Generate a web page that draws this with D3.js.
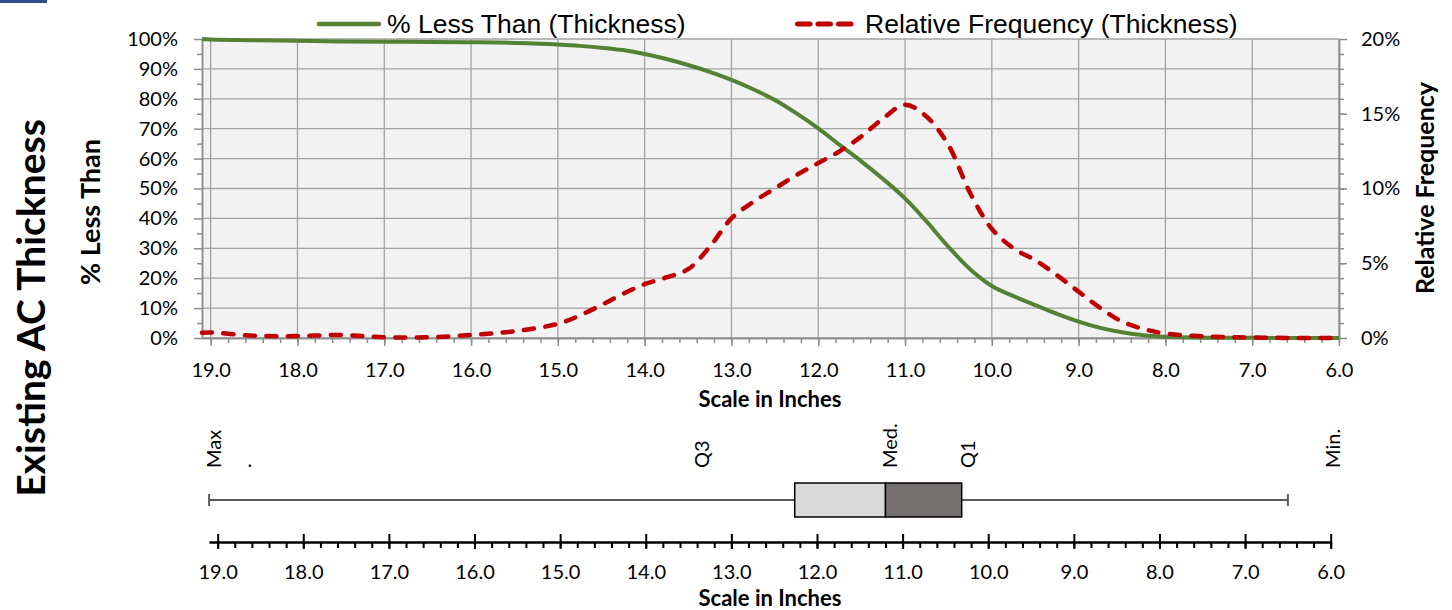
<!DOCTYPE html>
<html>
<head>
<meta charset="utf-8">
<script src="https://cdn.jsdelivr.net/npm/d3@7"></script>
<style>
  body { margin: 0; background: #fff; }
  svg text { font-family: Lato, "Open Sans", sans-serif; fill: #000; }
  .legend text { font-family: "Liberation Sans", Arial, sans-serif; }
  .grid line { stroke: #a3a3a3; stroke-width: 1.3; }
  .gray-axis path, .gray-axis line { stroke: #8c8c8c; stroke-width: 1.5; }
  .bot-axis path, .bot-axis line { stroke: #000; stroke-width: 2; }
</style>
</head>
<body>
<svg id="chart" width="1452" height="610"></svg>
<script>
// ---- data ----
var thickness = [19.1, 19.0, 18.5, 18.0, 17.5, 17.0, 16.5, 16.0, 15.5, 15.0, 14.75, 14.5, 14.25, 14.0,
    13.75, 13.5, 13.25, 13.0, 12.75, 12.5, 12.25, 12.0, 11.75, 11.5, 11.25, 11.0, 10.75, 10.5, 10.25,
    10.0, 9.75, 9.5, 9.25, 9.0, 8.75, 8.5, 8.25, 8.0, 7.5, 7.0, 6.5, 6.0];
// % less than (0-1, left axis)
var pctLessThan = [1.0, 0.998, 0.996, 0.994, 0.992, 0.991, 0.990, 0.989, 0.987, 0.982, 0.977, 0.971, 0.963, 0.950,
    0.933, 0.913, 0.890, 0.863, 0.832, 0.796, 0.751, 0.701, 0.645, 0.590, 0.531, 0.467, 0.389, 0.305, 0.230,
    0.174, 0.140, 0.110, 0.081, 0.055, 0.034, 0.019, 0.009, 0.004, 0.001, 0.0005, 0, 0];
// relative frequency (0-0.2, right axis)
var relFrequency = [0.0035, 0.0037, 0.0015, 0.0013, 0.0020, 0.0005, 0.0005, 0.0020, 0.0045, 0.0095, 0.015, 0.022, 0.0295, 0.036,
    0.0405, 0.046, 0.061, 0.080, 0.091, 0.100, 0.109, 0.117, 0.125, 0.135, 0.147, 0.156, 0.148, 0.129, 0.097,
    0.073, 0.060, 0.052, 0.042, 0.031, 0.020, 0.011, 0.006, 0.003, 0.001, 0.0003, 0, 0];

var seriesNames = ['% Less Than (Thickness)', 'Relative Frequency (Thickness)'];

// box plot: max, Q3, median, Q1, min
var boxValues = [19.1, 12.26, 11.2, 10.31, 6.5];
var boxLabels = ['Max', '.', 'Q3', 'Med.', 'Q1', 'Min.'];
var boxLabelAt = [19.05, 18.7, 13.35, 11.15, 10.24, 5.98];

var xTicks = d3.range(19, 5.99, -1);
var xMinorTicks = d3.range(19, 5.99, -0.2);
var leftTicks = d3.range(0, 1.001, 0.1);
var leftMinorTicks = d3.range(0.05, 1, 0.1);
var rightTicks = [0, 0.05, 0.10, 0.15, 0.20];
var rightMinorTicks = d3.range(0.01, 0.2, 0.01);

// ---- layout ----
var svg = d3.select('#chart');
var plot = {l: 202, r: 1339, t: 39, b: 338};

var xScale = d3.scaleLinear().domain([19.1, 6]).range([plot.l, plot.r]);
var yLeft = d3.scaleLinear().domain([0, 1]).range([plot.b, plot.t]);
var yRight = d3.scaleLinear().domain([0, 0.2]).range([plot.b, plot.t]);
var xBox = d3.scaleLinear().domain([19.1, 6]).range([209.1, 1330.7]);

// little blue bar top-left
svg.append('rect').attr('x', 0).attr('y', 0).attr('width', 47).attr('height', 3).attr('fill', '#2f4b8a');

// plot background
svg.append('rect')
    .attr('x', plot.l).attr('y', plot.t)
    .attr('width', plot.r - plot.l).attr('height', plot.b - plot.t)
    .attr('fill', '#f2f2f2');

// gridlines
var grid = svg.append('g').attr('class', 'grid');
grid.selectAll('.vg').data(xTicks).enter().append('line')
    .attr('x1', d => xScale(d)).attr('x2', d => xScale(d))
    .attr('y1', plot.t).attr('y2', plot.b);
grid.selectAll('.hg').data(leftTicks).enter().append('line')
    .attr('x1', plot.l).attr('x2', plot.r)
    .attr('y1', d => yLeft(d)).attr('y2', d => yLeft(d));

// axes of the top chart
var gx = svg.append('g').attr('class', 'gray-axis')
    .attr('transform', 'translate(0,' + plot.b + ')');
gx.call(d3.axisBottom(xScale).tickValues(xMinorTicks).tickSize(5).tickSizeOuter(0).tickFormat(''));
var gx2 = svg.append('g').attr('class', 'gray-axis')
    .attr('transform', 'translate(0,' + plot.b + ')');
gx2.call(d3.axisBottom(xScale).tickValues(xTicks).tickSize(8).tickSizeOuter(0).tickPadding(17)
    .tickFormat(d3.format('.1f')));

var gy = svg.append('g').attr('class', 'gray-axis')
    .attr('transform', 'translate(' + plot.l + ',0)');
gy.call(d3.axisLeft(yLeft).tickValues(leftMinorTicks).tickSize(5).tickSizeOuter(0).tickFormat(''));
var gy2 = svg.append('g').attr('class', 'gray-axis')
    .attr('transform', 'translate(' + plot.l + ',0)');
gy2.call(d3.axisLeft(yLeft).tickValues(leftTicks).tickSize(8).tickSizeOuter(0).tickPadding(16)
    .tickFormat(d3.format('.0%')));

var gr = svg.append('g').attr('class', 'gray-axis')
    .attr('transform', 'translate(' + plot.r + ',0)');
gr.call(d3.axisRight(yRight).tickValues(rightMinorTicks).tickSize(5).tickSizeOuter(0).tickFormat(''));
var gr2 = svg.append('g').attr('class', 'gray-axis')
    .attr('transform', 'translate(' + plot.r + ',0)');
gr2.call(d3.axisRight(yRight).tickValues(rightTicks).tickSize(8).tickSizeOuter(0).tickPadding(14)
    .tickFormat(d3.format('.0%')));

svg.selectAll('.gray-axis text').attr('font-size', 20).attr('font-family', 'Lato').attr('fill', '#000');

// ---- series ----
var rows = thickness.map((t, i) => ({t: t, p: pctLessThan[i], f: relFrequency[i]}));

var lessLine = d3.line().x(d => xScale(d.t)).y(d => yLeft(d.p)).curve(d3.curveCatmullRom.alpha(0.5));
var freqLine = d3.line().x(d => xScale(d.t)).y(d => yRight(d.f)).curve(d3.curveCatmullRom.alpha(0.5));

svg.append('path').datum(rows)
    .attr('d', lessLine)
    .attr('fill', 'none').attr('stroke', '#548235').attr('stroke-width', 4);

svg.append('path').datum(rows)
    .attr('d', freqLine)
    .attr('fill', 'none').attr('stroke', '#c00000').attr('stroke-width', 4.5)
    .attr('stroke-linecap', 'round').attr('stroke-dasharray', '10 11.5');

// ---- legend ----
var legend = svg.append('g').attr('class', 'legend');
legend.append('line').attr('x1', 319).attr('x2', 379).attr('y1', 24).attr('y2', 24)
    .attr('stroke', '#548235').attr('stroke-width', 4.5).attr('stroke-linecap', 'round');
legend.append('text').attr('x', 387).attr('y', 23).attr('dy', '0.36em')
    .attr('font-size', 26.5).text(seriesNames[0]);
legend.append('line').attr('x1', 797.5).attr('x2', 851).attr('y1', 24).attr('y2', 24)
    .attr('stroke', '#c00000').attr('stroke-width', 5).attr('stroke-linecap', 'round')
    .attr('stroke-dasharray', '12.5 8');
legend.append('text').attr('x', 865).attr('y', 23).attr('dy', '0.36em')
    .attr('font-size', 26.5).text(seriesNames[1]);

// ---- titles ----
svg.append('text')
    .attr('transform', 'translate(31,308)rotate(-90)')
    .attr('text-anchor', 'middle').attr('dy', '0.36em')
    .attr('font-size', 39).attr('font-weight', 'bold')
    .text('Existing AC Thickness');
svg.append('text')
    .attr('transform', 'translate(90,212)rotate(-90)')
    .attr('text-anchor', 'middle').attr('dy', '0.36em')
    .attr('font-size', 27).attr('font-weight', 'bold')
    .text('% Less Than');
svg.append('text')
    .attr('transform', 'translate(1425,188)rotate(-90)')
    .attr('text-anchor', 'middle').attr('dy', '0.36em')
    .attr('font-size', 25).attr('font-weight', 'bold')
    .text('Relative Frequency');
svg.append('text')
    .attr('x', 770).attr('y', 399).attr('dy', '0.36em')
    .attr('text-anchor', 'middle')
    .attr('font-size', 22).attr('font-weight', 'bold')
    .text('Scale in Inches');

// ---- box plot ----
var boxY = 500, boxH = 34;
var boxG = svg.append('g');
boxG.append('line')
    .attr('x1', xBox(boxValues[0])).attr('x2', xBox(boxValues[4]))
    .attr('y1', boxY).attr('y2', boxY)
    .attr('stroke', '#595959').attr('stroke-width', 2);
boxG.selectAll('.cap').data([boxValues[0], boxValues[4]]).enter().append('line')
    .attr('x1', d => xBox(d)).attr('x2', d => xBox(d))
    .attr('y1', boxY - 6).attr('y2', boxY + 6)
    .attr('stroke', '#595959').attr('stroke-width', 2);
// Q3 -> median (light), median -> Q1 (dark)
boxG.append('rect')
    .attr('x', xBox(boxValues[1])).attr('y', boxY - boxH / 2)
    .attr('width', xBox(boxValues[2]) - xBox(boxValues[1])).attr('height', boxH)
    .attr('fill', '#d9d9d9').attr('stroke', '#000').attr('stroke-width', 1.5);
boxG.append('rect')
    .attr('x', xBox(boxValues[2])).attr('y', boxY - boxH / 2)
    .attr('width', xBox(boxValues[3]) - xBox(boxValues[2])).attr('height', boxH)
    .attr('fill', '#767171').attr('stroke', '#000').attr('stroke-width', 1.5);

boxG.selectAll('.blabel').data(boxLabels).enter().append('text')
    .attr('transform', (d, i) => 'translate(' + xBox(boxLabelAt[i]) + ',468)rotate(-90)')
    .attr('dy', '0.36em')
    .attr('font-size', 20)
    .text(d => d);

// bottom scale
var gb = svg.append('g').attr('class', 'bot-axis')
    .attr('transform', 'translate(0,542)');
gb.call(d3.axisBottom(xBox).tickValues(xMinorTicks).tickSize(6).tickSizeOuter(0).tickFormat(''));
var gb2 = svg.append('g').attr('class', 'bot-axis')
    .attr('transform', 'translate(0,542)');
gb2.call(d3.axisBottom(xBox).tickValues(xTicks).tickSize(7).tickSizeOuter(0).tickPadding(16)
    .tickFormat(d3.format('.1f')));
gb2.selectAll('.tick line').attr('y1', -8);
gb2.selectAll('text').attr('font-size', 20).attr('font-family', 'Lato').attr('fill', '#000');

svg.append('text')
    .attr('x', 770).attr('y', 598).attr('dy', '0.36em')
    .attr('text-anchor', 'middle')
    .attr('font-size', 22).attr('font-weight', 'bold')
    .text('Scale in Inches');
</script>
</body>
</html>
